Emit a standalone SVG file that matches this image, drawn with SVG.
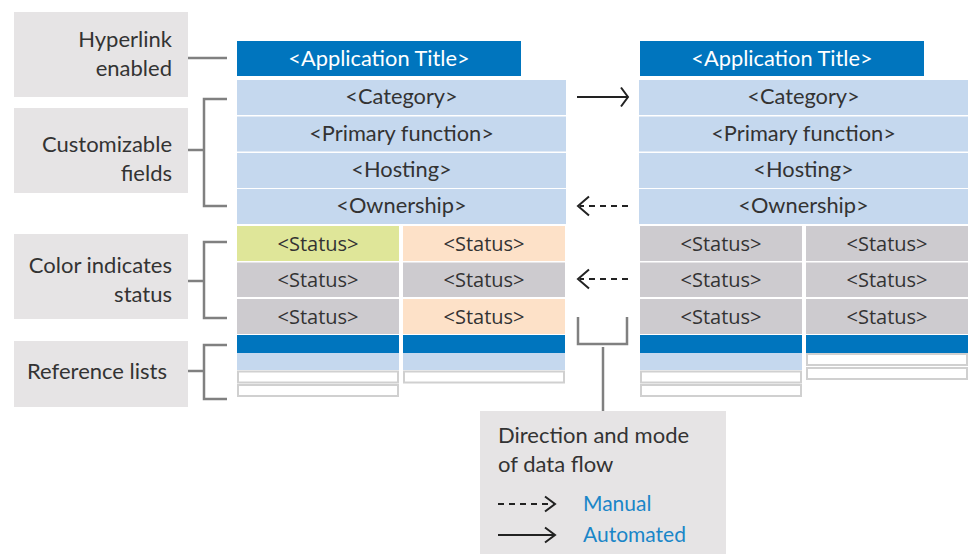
<svg xmlns="http://www.w3.org/2000/svg" width="974" height="554" viewBox="0 0 974 554">
<style>
.lbl{fill:#e6e4e5}
.lt{font-family:Lato,"Open Sans","Liberation Sans",sans-serif;font-size:22px;fill:#333;text-anchor:end}
.title{fill:#0075be}
.tt{font-family:Lato,"Open Sans","Liberation Sans",sans-serif;font-size:21.8px;fill:#fff;text-anchor:middle}
.lb{fill:#c5d8ee}
.ct{font-family:Lato,"Open Sans","Liberation Sans",sans-serif;font-size:21.8px;fill:#333;text-anchor:middle}
.st{font-family:"Open Sans","Noto Sans","Liberation Sans",sans-serif;font-size:20px;fill:#333;text-anchor:middle}
.g{fill:#cdcbcf}
.gr{fill:#dfe699}
.pe{fill:#fde1c8}
.bl{fill:#0075be}
.wb{fill:#fff;stroke:#d0d0d0;stroke-width:2}
.br{fill:none;stroke:#808080;stroke-width:2.5}
.ar{fill:none;stroke:#222;stroke-width:2}
.da{stroke-dasharray:6 5}
.leg{font-family:Lato,"Open Sans","Liberation Sans",sans-serif;font-size:22px;fill:#333}
.blt{font-family:Lato,"Open Sans","Liberation Sans",sans-serif;font-size:21px;fill:#1a86c8}
</style>

<g id="label-hyperlink">
<rect class="lbl" x="14" y="12" width="174" height="85"/>
<text class="lt" x="172" y="47">Hyperlink</text>
<text class="lt" x="172" y="76">enabled</text>
</g>
<g id="label-customizable">
<rect class="lbl" x="14" y="108" width="174" height="85"/>
<text class="lt" x="172" y="152">Customizable</text>
<text class="lt" x="172" y="181">fields</text>
</g>
<g id="label-color">
<rect class="lbl" x="14" y="234" width="174" height="85"/>
<text class="lt" x="172" y="273">Color indicates</text>
<text class="lt" x="172" y="302">status</text>
</g>
<g id="label-reference">
<rect class="lbl" x="14" y="341" width="174" height="66"/>
<text class="lt" x="167" y="379">Reference lists</text>
</g>

<g id="app-left">
<rect class="title" x="237" y="41" width="284" height="35"/>
<text class="tt" x="379" y="66">&lt;Application Title&gt;</text>
<rect class="lb" x="237" y="80" width="329" height="35"/>
<text class="ct" x="401.5" y="104">&lt;Category&gt;</text>
<rect class="lb" x="237" y="116.5" width="329" height="35"/>
<text class="ct" x="401.5" y="140.5">&lt;Primary function&gt;</text>
<rect class="lb" x="237" y="153" width="329" height="35"/>
<text class="ct" x="401.5" y="177">&lt;Hosting&gt;</text>
<rect class="lb" x="237" y="189" width="329" height="35"/>
<text class="ct" x="401.5" y="213">&lt;Ownership&gt;</text>
<rect class="gr" x="237" y="226" width="162" height="35"/>
<text class="st" x="318" y="250.5">&lt;Status&gt;</text>
<rect class="pe" x="403" y="226" width="162" height="35"/>
<text class="st" x="484" y="250.5">&lt;Status&gt;</text>
<rect class="g" x="237" y="262.5" width="162" height="34.5"/>
<text class="st" x="318" y="286.5">&lt;Status&gt;</text>
<rect class="g" x="403" y="262.5" width="162" height="34.5"/>
<text class="st" x="484" y="286.5">&lt;Status&gt;</text>
<rect class="g" x="237" y="299" width="162" height="35"/>
<text class="st" x="318" y="323.5">&lt;Status&gt;</text>
<rect class="pe" x="403" y="299" width="162" height="35"/>
<text class="st" x="484" y="323.5">&lt;Status&gt;</text>
<rect class="bl" x="237" y="335" width="162" height="18"/>
<rect class="bl" x="403" y="335" width="162" height="18"/>
<rect class="lb" x="237" y="353" width="162" height="17"/>
<rect class="lb" x="403" y="353" width="162" height="17"/>
<rect class="wb" x="238" y="371.5" width="160" height="11"/>
<rect class="wb" x="238" y="385" width="160" height="11"/>
<rect class="wb" x="404" y="371.5" width="160" height="11"/>
</g>

<g id="app-right">
<rect class="title" x="640" y="41" width="284" height="35"/>
<text class="tt" x="782" y="66">&lt;Application Title&gt;</text>
<rect class="lb" x="639" y="80" width="329" height="35"/>
<text class="ct" x="803.5" y="104">&lt;Category&gt;</text>
<rect class="lb" x="639" y="116.5" width="329" height="35"/>
<text class="ct" x="803.5" y="140.5">&lt;Primary function&gt;</text>
<rect class="lb" x="639" y="153" width="329" height="35"/>
<text class="ct" x="803.5" y="177">&lt;Hosting&gt;</text>
<rect class="lb" x="639" y="189" width="329" height="35"/>
<text class="ct" x="803.5" y="213">&lt;Ownership&gt;</text>
<rect class="g" x="640" y="226" width="162" height="35"/>
<text class="st" x="721" y="250.5">&lt;Status&gt;</text>
<rect class="g" x="806" y="226" width="162" height="35"/>
<text class="st" x="887" y="250.5">&lt;Status&gt;</text>
<rect class="g" x="640" y="262.5" width="162" height="34.5"/>
<text class="st" x="721" y="286.5">&lt;Status&gt;</text>
<rect class="g" x="806" y="262.5" width="162" height="34.5"/>
<text class="st" x="887" y="286.5">&lt;Status&gt;</text>
<rect class="g" x="640" y="299" width="162" height="35"/>
<text class="st" x="721" y="323.5">&lt;Status&gt;</text>
<rect class="g" x="806" y="299" width="162" height="35"/>
<text class="st" x="887" y="323.5">&lt;Status&gt;</text>
<rect class="bl" x="640" y="335" width="162" height="18"/>
<rect class="bl" x="806" y="335" width="162" height="18"/>
<rect class="lb" x="640" y="353" width="162" height="17"/>
<rect class="wb" x="641" y="371.5" width="160" height="11"/>
<rect class="wb" x="641" y="385" width="160" height="11"/>
<rect class="wb" x="807" y="354" width="160" height="11"/>
<rect class="wb" x="807" y="368" width="160" height="11"/>
</g>

<g id="legend">
<rect class="lbl" x="480" y="411" width="246" height="143"/>
<text class="leg" x="498" y="443">Direction and mode</text>
<text class="leg" x="498" y="472">of data flow</text>
<line class="ar da" x1="498" y1="504" x2="554" y2="504"/>
<polyline class="ar" points="545,496.5 555,504 545,511.5"/>
<text class="blt" x="583" y="511">Manual</text>
<line class="ar" x1="498" y1="535" x2="554" y2="535"/>
<polyline class="ar" points="545,527.5 555,535 545,542.5"/>
<text class="blt" x="583" y="542">Automated</text>
</g>

<g id="connectors">
<line class="br" x1="188" y1="58" x2="227" y2="58"/>
<polyline class="br" points="227,99 204,99 204,206 227,206"/>
<line class="br" x1="188" y1="150" x2="204" y2="150"/>
<polyline class="br" points="227,242 204,242 204,318 227,318"/>
<line class="br" x1="188" y1="281" x2="204" y2="281"/>
<polyline class="br" points="227,345 204,345 204,399 227,399"/>
<line class="br" x1="188" y1="371" x2="204" y2="371"/>
<polyline class="br" points="578,317 578,344 627,344 627,317"/>
<line class="br" x1="603" y1="347" x2="603" y2="411"/>
<line class="ar" x1="577" y1="97" x2="627" y2="97"/>
<polyline class="ar" points="621,87.5 628,97 621,106.5"/>
<line class="ar da" x1="628" y1="206" x2="580" y2="206"/>
<polyline class="ar" points="589,196.5 578,206 589,215.5"/>
<line class="ar da" x1="628" y1="279" x2="580" y2="279"/>
<polyline class="ar" points="589,269.5 578,279 589,288.5"/>
</g>
</svg>
